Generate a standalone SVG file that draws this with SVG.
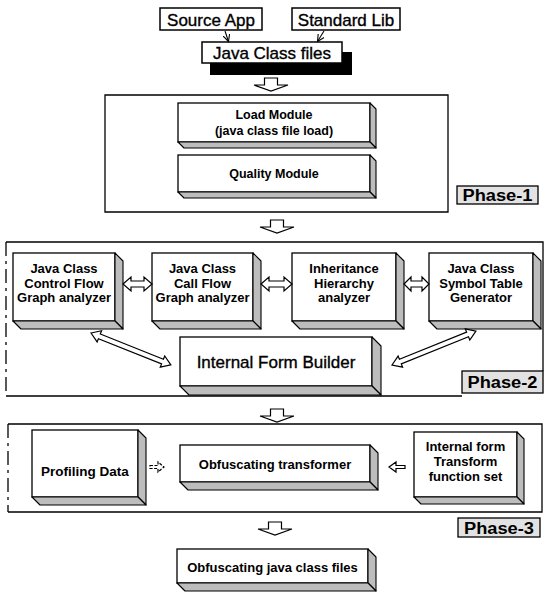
<svg xmlns="http://www.w3.org/2000/svg" width="545" height="597" viewBox="0 0 545 597">
<defs>
<marker id="ah" viewBox="0 0 8 8" refX="7" refY="4" markerWidth="8" markerHeight="8" markerUnits="userSpaceOnUse" orient="auto">
<path d="M0,0.5 L7,4 L0,7.5" fill="none" stroke="#000" stroke-width="1.1"/>
</marker>
<path id="down" d="M-6.5,0 H6.5 V7 H17 L0,13 L-17,7 H-6.5 Z"/>
</defs>
<style>
text{font-family:"Liberation Sans",Arial,Helvetica,sans-serif;fill:#000}
.big{font-size:17px;stroke:#000;stroke-width:0.35}
.b{font-weight:bold;font-size:13px}
.b12{font-weight:bold;font-size:12.5px}
.ph{font-weight:bold;font-size:16px}
.m{text-anchor:middle}
.front{fill:#fff;stroke:#000;stroke-width:1.3}
.plain{fill:#fff;stroke:#000;stroke-width:1.5}
.side{fill:#bdbdbd;stroke:#000;stroke-width:1.1;stroke-linejoin:round}
.frame{fill:none;stroke:#000;stroke-width:1.3}
.dash{fill:none;stroke:#000;stroke-width:1.3;stroke-dasharray:14 5 3 5}
.harrow{fill:#fff;stroke:#000;stroke-width:1.2;stroke-linejoin:miter}
.label{fill:#e2e2e2;stroke:#000;stroke-width:1.3}
.conn{fill:none;stroke:#000;stroke-width:1.1}
</style>
<rect width="545" height="597" fill="#fff"/>

<g id="frames">
<path class="frame" d="M105,95 H448 V212 H105 Z"/>
<path class="frame" d="M6,242 H543 V371 M6,396 H462"/>
<path class="dash" d="M6,242 V396"/>
<path class="frame" d="M8,424 H542 V512 H8"/>
<path class="dash" d="M8,424 V512"/>
</g>

<g id="phase1-label"><rect class="label" x="457" y="186" width="81" height="18"/><text class="ph m" x="497.5" y="201" textLength="70" lengthAdjust="spacingAndGlyphs">Phase-1</text></g>
<g id="phase2-label"><rect class="label" x="462" y="371" width="81" height="22"/><text class="ph m" x="502.5" y="388" textLength="70" lengthAdjust="spacingAndGlyphs">Phase-2</text></g>
<g id="phase3-label"><rect class="label" x="458" y="518" width="82" height="19"/><text class="ph m" x="499" y="533.5" textLength="70" lengthAdjust="spacingAndGlyphs">Phase-3</text></g>

<g id="source-app"><rect class="plain" x="160" y="8" width="102" height="22"/><text class="big m" x="211" y="25.5">Source App</text></g>
<g id="standard-lib"><rect class="plain" x="292" y="8" width="108" height="22"/><text class="big m" x="346" y="25.5">Standard Lib</text></g>
<g id="java-class-files"><rect x="210" y="52" width="142" height="23" fill="#000"/><rect class="plain" x="202" y="42" width="140" height="21"/><text class="big m" x="272" y="58.5">Java Class files</text></g>

<g id="load-module">
<rect class="front" x="178" y="103" width="192" height="39"/>
<polygon class="side" points="370,103 376,109 376,148 370,142"/>
<polygon class="side" points="178,142 370,142 376,148 184,148"/>
<text class="b12 m" x="274" y="119">Load Module</text>
<text class="b12 m" x="274" y="135">(java class file load)</text>
</g>
<g id="quality-module">
<rect class="front" x="178" y="155" width="192" height="37"/>
<polygon class="side" points="370,155 376,161 376,198 370,192"/>
<polygon class="side" points="178,192 370,192 376,198 184,198"/>
<text class="b12 m" x="274" y="178">Quality Module</text>
</g>

<g id="control-flow">
<rect class="front" x="13" y="253" width="102" height="68"/>
<polygon class="side" points="115,253 123,261 123,329 115,321"/>
<polygon class="side" points="13,321 115,321 123,329 21,329"/>
<text class="b m" x="64" y="273">Java Class</text>
<text class="b m" x="64" y="287.5">Control Flow</text>
<text class="b m" x="64" y="302">Graph analyzer</text>
</g>
<g id="call-flow">
<rect class="front" x="152" y="253" width="101" height="68"/>
<polygon class="side" points="253,253 261,261 261,329 253,321"/>
<polygon class="side" points="152,321 253,321 261,329 160,329"/>
<text class="b m" x="202.5" y="273">Java Class</text>
<text class="b m" x="202.5" y="287.5">Call Flow</text>
<text class="b m" x="202.5" y="302">Graph analyzer</text>
</g>
<g id="inheritance">
<rect class="front" x="292" y="253" width="104" height="68"/>
<polygon class="side" points="396,253 404,261 404,329 396,321"/>
<polygon class="side" points="292,321 396,321 404,329 300,329"/>
<text class="b m" x="344" y="273">Inheritance</text>
<text class="b m" x="344" y="287.5">Hierarchy</text>
<text class="b m" x="344" y="302">analyzer</text>
</g>
<g id="symbol-table">
<rect class="front" x="429" y="253" width="104" height="68"/>
<polygon class="side" points="533,253 541,261 541,329 533,321"/>
<polygon class="side" points="429,321 533,321 541,329 437,329"/>
<text class="b m" x="481" y="273">Java Class</text>
<text class="b m" x="481" y="287.5">Symbol Table</text>
<text class="b m" x="481" y="302">Generator</text>
</g>
<g id="internal-form-builder">
<rect class="front" x="180" y="337" width="192" height="49"/>
<polygon class="side" points="372,337 381,346 381,395 372,386"/>
<polygon class="side" points="180,386 372,386 381,395 189,395"/>
<text class="big m" x="276" y="368">Internal Form Builder</text>
</g>

<g id="profiling-data">
<rect class="front" x="32" y="430" width="106" height="67"/>
<polygon class="side" points="138,430 146,438 146,505 138,497"/>
<polygon class="side" points="32,497 138,497 146,505 40,505"/>
<text class="m" x="85" y="476" style="font-weight:bold;font-size:13.5px">Profiling Data</text>
</g>
<g id="obfuscating-transformer">
<rect class="front" x="180" y="445" width="190" height="37"/>
<polygon class="side" points="370,445 378,453 378,490 370,482"/>
<polygon class="side" points="180,482 370,482 378,490 188,490"/>
<text class="b m" x="275" y="469">Obfuscating transformer</text>
</g>
<g id="transform-function-set">
<rect class="front" x="414" y="432" width="103" height="65"/>
<polygon class="side" points="517,432 524,439 524,504 517,497"/>
<polygon class="side" points="414,497 517,497 524,504 421,504"/>
<text class="b m" x="465.5" y="451">Internal form</text>
<text class="b m" x="465.5" y="466">Transform</text>
<text class="b m" x="465.5" y="481">function set</text>
</g>

<g id="obfuscated-files">
<rect class="front" x="177" y="549" width="191" height="34"/>
<polygon class="side" points="368,549 376,557 376,591 368,583"/>
<polygon class="side" points="177,583 368,583 376,591 185,591"/>
<text class="b m" x="272.5" y="572">Obfuscating java class files</text>
</g>

<g id="connectors">
<line class="conn" x1="225" y1="31" x2="228.5" y2="41.5" marker-end="url(#ah)"/>
<line class="conn" x1="324" y1="31" x2="317.5" y2="41.5" marker-end="url(#ah)"/>
<use href="#down" class="harrow" x="271" y="78"/>
<use href="#down" class="harrow" x="277" y="220"/>
<use href="#down" class="harrow" x="277" y="409"/>
<use href="#down" class="harrow" x="275" y="522"/>
<path class="harrow" d="M123,284 L131,277 V281 H144 V277 L152,284 L144,291 V287 H131 V291 Z"/>
<path class="harrow" d="M261,284 L269,277 V281 H284 V277 L292,284 L284,291 V287 H269 V291 Z"/>
<path class="harrow" d="M404,284 L411,277 V281 H422 V277 L429,284 L422,291 V287 H411 V291 Z"/>
<path class="harrow" transform="translate(91,333) rotate(21.8)" d="M0,0 L9,-6 V-2.5 H77 V-6 L86,0 L77,6 V2.5 H9 V6 Z"/>
<path class="harrow" transform="translate(392,365) rotate(-22)" d="M0,0 L9,-6 V-2.5 H81.5 V-6 L90.5,0 L81.5,6 V2.5 H9 V6 Z"/>
<path class="harrow" d="M150,465.5 H158 V462 L164,467 L158,472 V468.5 H150 Z" stroke-dasharray="3 1.5"/>
<path class="harrow" d="M405,465.5 H396 V462 L389,467 L396,472 V468.5 H405 Z"/>
</g>
</svg>
